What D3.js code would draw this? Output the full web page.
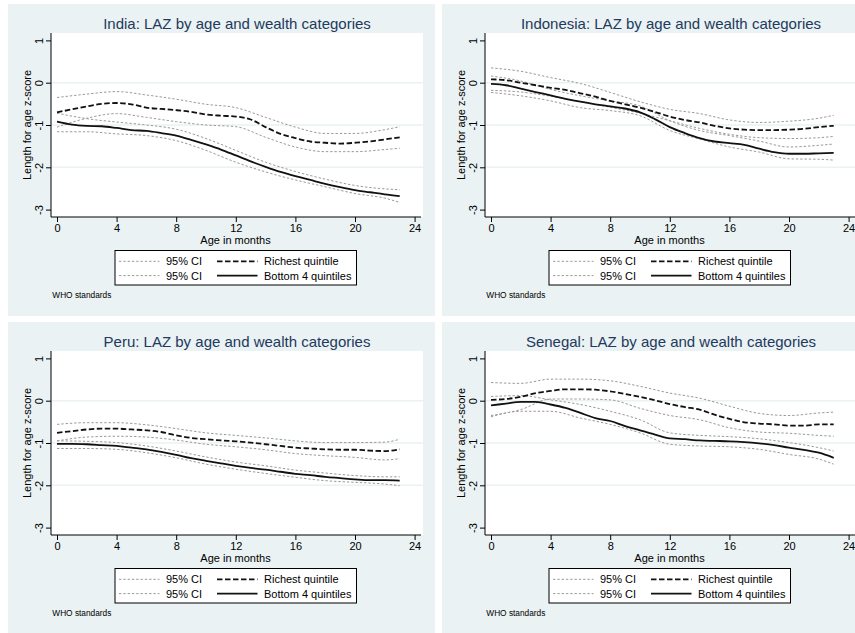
<!DOCTYPE html>
<html>
<head>
<meta charset="utf-8">
<script src="https://cdn.jsdelivr.net/npm/d3@7"></script>
<style>
  body { margin: 0; background: #fff; }
  svg { display: block; font-family: "Liberation Sans", Arial, sans-serif; }
</style>
</head>
<body>
<div id="chart"></div>
<script>
// months of age for the smoothed means, and the points read for the CI bands
const ages = [0,1,2,3,4,5,6,7,8,9,10,11,12,13,14,15,16,17,18,19,20,21,22,23]
const ciAges = [0,2,4,6,8,10,12,14,16,18,20,22,23]

const xTicks = [0,4,8,12,16,20,24]
const yTicks = [1,0,-1,-2,-3]
const gridTicks = [0,-1,-2]

const countries = ["India", "Indonesia", "Peru", "Senegal"]
const legendLabels = ["95% CI", "Richest quintile", "95% CI", "Bottom 4 quintiles"]

// India
const indiaRich = [-0.70,-0.63,-0.56,-0.50,-0.48,-0.51,-0.59,-0.62,-0.65,-0.69,-0.75,-0.78,-0.80,-0.87,-1.05,-1.21,-1.31,-1.39,-1.42,-1.44,-1.42,-1.39,-1.34,-1.29]
const indiaBottom = [-0.92,-0.99,-1.02,-1.03,-1.07,-1.12,-1.14,-1.19,-1.25,-1.35,-1.46,-1.58,-1.72,-1.86,-1.99,-2.11,-2.21,-2.30,-2.39,-2.47,-2.54,-2.59,-2.64,-2.68]
const indiaRichHi = [-0.35,-0.27,-0.21,-0.29,-0.39,-0.51,-0.59,-0.82,-1.05,-1.20,-1.20,-1.11,-1.04]
const indiaRichLo = [-1.05,-0.84,-0.73,-0.82,-0.92,-1.00,-1.04,-1.29,-1.52,-1.63,-1.63,-1.58,-1.55]
const indiaBottomHi = [-0.72,-0.85,-0.93,-1.00,-1.10,-1.32,-1.60,-1.88,-2.10,-2.28,-2.43,-2.51,-2.53]
const indiaBottomLo = [-1.16,-1.16,-1.21,-1.25,-1.37,-1.60,-1.88,-2.11,-2.30,-2.46,-2.62,-2.73,-2.83]

// Indonesia
const indonesiaRich = [0.08,0.06,0.00,-0.06,-0.12,-0.17,-0.25,-0.33,-0.43,-0.51,-0.59,-0.69,-0.80,-0.88,-0.94,-1.02,-1.08,-1.11,-1.12,-1.12,-1.11,-1.09,-1.05,-1.02]
const indonesiaBottom = [-0.03,-0.06,-0.14,-0.22,-0.30,-0.38,-0.45,-0.51,-0.56,-0.61,-0.70,-0.86,-1.05,-1.19,-1.31,-1.39,-1.43,-1.47,-1.56,-1.64,-1.68,-1.68,-1.67,-1.66]
const indonesiaRichHi = [0.35,0.27,0.12,-0.02,-0.23,-0.45,-0.63,-0.73,-0.88,-0.94,-0.91,-0.84,-0.77]
const indonesiaRichLo = [-0.18,-0.22,-0.32,-0.45,-0.58,-0.72,-0.90,-1.08,-1.22,-1.30,-1.32,-1.30,-1.27]
const indonesiaBottomHi = [0.16,0.04,-0.16,-0.31,-0.43,-0.55,-0.90,-1.13,-1.25,-1.38,-1.52,-1.48,-1.45]
const indonesiaBottomLo = [-0.23,-0.31,-0.43,-0.59,-0.66,-0.78,-1.13,-1.33,-1.52,-1.64,-1.80,-1.81,-1.83]

// Peru
const peruRich = [-0.76,-0.72,-0.68,-0.66,-0.66,-0.68,-0.70,-0.74,-0.82,-0.88,-0.91,-0.94,-0.96,-0.99,-1.03,-1.07,-1.11,-1.13,-1.15,-1.16,-1.16,-1.18,-1.19,-1.15]
const peruBottom = [-1.02,-1.02,-1.03,-1.05,-1.07,-1.11,-1.15,-1.21,-1.28,-1.36,-1.42,-1.48,-1.54,-1.59,-1.63,-1.68,-1.73,-1.76,-1.80,-1.83,-1.86,-1.88,-1.88,-1.89]
const peruRichHi = [-0.56,-0.52,-0.52,-0.57,-0.66,-0.76,-0.82,-0.88,-0.95,-0.99,-0.99,-0.98,-0.91]
const peruRichLo = [-0.95,-0.86,-0.84,-0.86,-0.93,-1.03,-1.09,-1.16,-1.25,-1.30,-1.34,-1.40,-1.37]
const peruBottomHi = [-0.95,-0.96,-0.99,-1.07,-1.19,-1.33,-1.45,-1.54,-1.64,-1.71,-1.77,-1.80,-1.80]
const peruBottomLo = [-1.13,-1.13,-1.15,-1.23,-1.35,-1.50,-1.62,-1.72,-1.81,-1.89,-1.93,-1.97,-2.01]

// Senegal
const senegalRich = [0.02,0.04,0.09,0.18,0.23,0.27,0.27,0.26,0.22,0.16,0.09,0.01,-0.08,-0.15,-0.21,-0.33,-0.43,-0.51,-0.54,-0.56,-0.59,-0.59,-0.56,-0.56]
const senegalBottom = [-0.11,-0.07,-0.03,-0.03,-0.09,-0.17,-0.29,-0.41,-0.48,-0.60,-0.70,-0.80,-0.89,-0.91,-0.94,-0.95,-0.96,-0.98,-1.01,-1.05,-1.11,-1.16,-1.23,-1.35]
const senegalRichHi = [0.43,0.41,0.51,0.51,0.47,0.34,0.18,0.06,-0.13,-0.30,-0.35,-0.29,-0.27]
const senegalRichLo = [-0.35,-0.21,0.04,0.04,0.02,-0.18,-0.35,-0.45,-0.64,-0.74,-0.77,-0.82,-0.84]
const senegalBottomHi = [0.10,0.12,0.02,-0.09,-0.25,-0.45,-0.76,-0.82,-0.85,-0.90,-0.99,-1.11,-1.19]
const senegalBottomLo = [-0.38,-0.25,-0.25,-0.41,-0.56,-0.76,-1.03,-1.07,-1.09,-1.15,-1.27,-1.38,-1.50]

const panels = [
    {name: countries[0], rich: indiaRich, bottom: indiaBottom, ci: [indiaRichHi, indiaRichLo, indiaBottomHi, indiaBottomLo]},
    {name: countries[1], rich: indonesiaRich, bottom: indonesiaBottom, ci: [indonesiaRichHi, indonesiaRichLo, indonesiaBottomHi, indonesiaBottomLo]},
    {name: countries[2], rich: peruRich, bottom: peruBottom, ci: [peruRichHi, peruRichLo, peruBottomHi, peruBottomLo]},
    {name: countries[3], rich: senegalRich, bottom: senegalBottom, ci: [senegalRichHi, senegalRichLo, senegalBottomHi, senegalBottomLo]}
]

const width = 855, height = 633
const panel_w = 427, panel_h = 312
const bg = "#eaf2f3"
const titleColor = "#23395d"
const plot = {left: 43, right: 415, top: 29, bottom: 213}

let svg = d3.select("#chart")
    .append("svg")
    .attr("width", width)
    .attr("height", height)

let x = d3.scaleLinear().domain([0, 24]).range([49, 406.6])
let y = d3.scaleLinear().domain([1, -3]).range([36.4, 205.6])

let line = d3.line()
    .x(d => x(d[0]))
    .y(d => y(d[1]))
    .curve(d3.curveMonotoneX)

const ciStyle = {stroke: "#9a9a9a", width: 1, dash: "2.4,1.9"}
const richStyle = {stroke: "#111", width: 1.8, dash: "5.5,2.5"}
const bottomStyle = {stroke: "#111", width: 1.8, dash: null}

function drawPanel(p, i) {
    let col = i % 2, row = Math.floor(i / 2)
    let g = svg.append("g")
        .attr("transform", `translate(${8 + col * 434}, ${4 + row * 318})`)

    g.append("rect")
        .attr("width", panel_w)
        .attr("height", panel_h)
        .attr("fill", bg)

    g.append("rect")
        .attr("x", plot.left)
        .attr("y", plot.top)
        .attr("width", plot.right - plot.left)
        .attr("height", plot.bottom - plot.top)
        .attr("fill", "#fff")

    g.selectAll(".grid")
        .data(gridTicks)
        .enter()
        .append("line")
        .attr("x1", plot.left)
        .attr("x2", plot.right)
        .attr("y1", d => y(d))
        .attr("y2", d => y(d))
        .attr("stroke", bg)
        .attr("stroke-width", 1.6)

    // confidence bands
    p.ci.forEach(function(vals) {
        g.append("path")
            .datum(ciAges.map((a, k) => [a, vals[k]]))
            .attr("d", line)
            .attr("fill", "none")
            .attr("stroke", ciStyle.stroke)
            .attr("stroke-width", ciStyle.width)
            .attr("stroke-dasharray", ciStyle.dash)
    })

    let mains = [[p.rich, richStyle], [p.bottom, bottomStyle]]
    mains.forEach(function(m) {
        g.append("path")
            .datum(ages.map((a, k) => [a, m[0][k]]))
            .attr("d", line)
            .attr("fill", "none")
            .attr("stroke", m[1].stroke)
            .attr("stroke-width", m[1].width)
            .attr("stroke-dasharray", m[1].dash)
    })

    // axes
    let xAxis = g.append("g")
        .attr("transform", `translate(0, ${plot.bottom})`)
        .call(d3.axisBottom(x).tickValues(xTicks).tickSize(5).tickSizeOuter(0).tickFormat(d => String(d)))
    xAxis.select(".domain").remove()
    xAxis.selectAll("text").attr("font-size", 11).attr("fill", "#000").attr("dy", null).attr("y", 14.5)
    xAxis.selectAll("line").attr("stroke", "#000")

    let yAxis = g.append("g")
        .attr("transform", `translate(${plot.left}, 0)`)
        .call(d3.axisLeft(y).tickValues(yTicks).tickSize(5).tickSizeOuter(0).tickFormat(d => String(d)))
    yAxis.select(".domain").remove()
    yAxis.selectAll("line").attr("stroke", "#000")
    yAxis.selectAll("text")
        .attr("font-size", 11)
        .attr("fill", "#000")
        .attr("x", null)
        .attr("dy", null)
        .attr("text-anchor", "middle")
        .attr("transform", "translate(-8, 0) rotate(-90)")

    g.append("line")
        .attr("x1", plot.left).attr("x2", plot.left)
        .attr("y1", plot.top).attr("y2", plot.bottom)
        .attr("stroke", "#000").attr("stroke-width", 1)
    g.append("line")
        .attr("x1", plot.left).attr("x2", plot.right - 2)
        .attr("y1", plot.bottom).attr("y2", plot.bottom)
        .attr("stroke", "#000").attr("stroke-width", 1)

    let midX = (plot.left + plot.right) / 2

    g.append("text")
        .attr("x", midX)
        .attr("y", 24.5)
        .attr("text-anchor", "middle")
        .attr("font-size", 15)
        .attr("fill", titleColor)
        .text(p.name + ": LAZ by age and wealth categories")

    g.append("text")
        .attr("x", midX - 1.5)
        .attr("y", 240.3)
        .attr("text-anchor", "middle")
        .attr("font-size", 11)
        .text("Age in months")

    g.append("text")
        .attr("transform", `translate(23, ${(y(1) + y(-3)) / 2}) rotate(-90)`)
        .attr("text-anchor", "middle")
        .attr("font-size", 11)
        .text("Length for age z-score")

    // legend
    let leg = g.append("g").attr("transform", "translate(107, 246.5)")
    leg.append("rect")
        .attr("width", 241.5)
        .attr("height", 34.5)
        .attr("fill", "#fff")
        .attr("stroke", "#000")
        .attr("stroke-width", 1)

    let legItems = [ciStyle, richStyle, ciStyle, bottomStyle]
    legItems.forEach(function(s, k) {
        let lx = (k % 2) * 98, ly = 10.8 + Math.floor(k / 2) * 14.3
        leg.append("line")
            .attr("x1", 4 + lx).attr("x2", 44.5 + lx)
            .attr("y1", ly).attr("y2", ly)
            .attr("stroke", s.stroke)
            .attr("stroke-width", s.width)
            .attr("stroke-dasharray", s.dash)
        leg.append("text")
            .attr("x", 51 + lx)
            .attr("y", ly + 4)
            .attr("font-size", 11)
            .text(legendLabels[k])
    })

    g.append("text")
        .attr("x", 44.3)
        .attr("y", 293.7)
        .attr("font-size", 8.3)
        .text("WHO standards")
}

panels.forEach(drawPanel)
</script>
</body>
</html>
